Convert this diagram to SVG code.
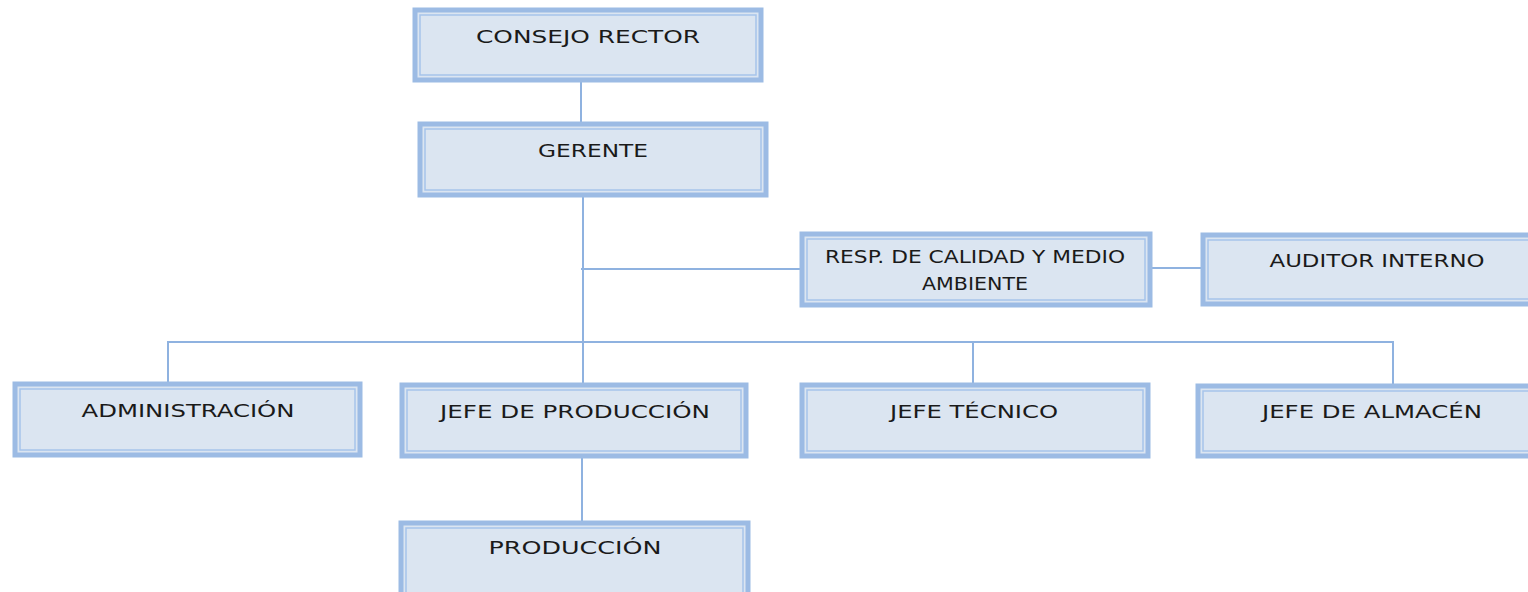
<svg xmlns="http://www.w3.org/2000/svg" width="1528" height="592" viewBox="0 0 1528 592">
<style>
.bo{fill:#dbe5f1;stroke:#9cbbe4;stroke-width:5}
.bi{fill:none;stroke:#a6c3ea;stroke-width:1.5}
.t{font-family:"DejaVu Sans","Liberation Sans",sans-serif;font-size:18px;fill:#1a1a1a;text-anchor:middle}
.c{fill:none;stroke:#8fb2e0;stroke-width:2}
</style>
<rect width="1528" height="592" fill="#fff"/>
<g id="connectors">
<line class="c" x1="581" y1="80" x2="581" y2="124"/>
<line class="c" x1="583" y1="195" x2="583" y2="385"/>
<line class="c" x1="581" y1="269" x2="802" y2="269"/>
<line class="c" x1="1150" y1="268" x2="1203" y2="268"/>
<polyline class="c" points="168,384 168,342 1393,342 1393,387"/>
<line class="c" x1="973" y1="342" x2="973" y2="385"/>
<line class="c" x1="582" y1="456" x2="582" y2="523"/>
</g>
<g id="consejo">
<rect class="bo" x="415" y="10" width="346" height="70"/>
<rect class="bi" x="420" y="15" width="336" height="60"/>
<text class="t" x="588" y="43" textLength="224" lengthAdjust="spacingAndGlyphs">CONSEJO RECTOR</text>
</g>
<g id="gerente">
<rect class="bo" x="420" y="124" width="346" height="71"/>
<rect class="bi" x="425" y="129" width="336" height="61"/>
<text class="t" x="593" y="157" textLength="110" lengthAdjust="spacingAndGlyphs">GERENTE</text>
</g>
<g id="resp">
<rect class="bo" x="802" y="234" width="348" height="71"/>
<rect class="bi" x="807" y="239" width="338" height="61"/>
<text class="t" x="975" y="263" textLength="300" lengthAdjust="spacingAndGlyphs">RESP. DE CALIDAD Y MEDIO</text>
<text class="t" x="975" y="290" textLength="106" lengthAdjust="spacingAndGlyphs">AMBIENTE</text>
</g>
<g id="auditor">
<rect class="bo" x="1203" y="235" width="340" height="69"/>
<rect class="bi" x="1208" y="240" width="330" height="59"/>
<text class="t" x="1377" y="267" textLength="215" lengthAdjust="spacingAndGlyphs">AUDITOR INTERNO</text>
</g>
<g id="administracion">
<rect class="bo" x="15" y="384" width="345" height="71"/>
<rect class="bi" x="20" y="389" width="335" height="61"/>
<text class="t" x="188" y="417" textLength="213" lengthAdjust="spacingAndGlyphs">ADMINISTRACIÓN</text>
</g>
<g id="jefe-produccion">
<rect class="bo" x="402" y="385" width="344" height="71"/>
<rect class="bi" x="407" y="390" width="334" height="61"/>
<text class="t" x="575" y="418" textLength="270" lengthAdjust="spacingAndGlyphs">JEFE DE PRODUCCIÓN</text>
</g>
<g id="jefe-tecnico">
<rect class="bo" x="802" y="385" width="346" height="71"/>
<rect class="bi" x="807" y="390" width="336" height="61"/>
<text class="t" x="974" y="418" textLength="168" lengthAdjust="spacingAndGlyphs">JEFE TÉCNICO</text>
</g>
<g id="jefe-almacen">
<rect class="bo" x="1198" y="386" width="345" height="70"/>
<rect class="bi" x="1203" y="391" width="335" height="60"/>
<text class="t" x="1372" y="418" textLength="220" lengthAdjust="spacingAndGlyphs">JEFE DE ALMACÉN</text>
</g>
<g id="produccion">
<rect class="bo" x="401" y="523" width="347" height="75"/>
<rect class="bi" x="406" y="528" width="337" height="65"/>
<text class="t" x="575" y="554" textLength="173" lengthAdjust="spacingAndGlyphs">PRODUCCIÓN</text>
</g>
</svg>
